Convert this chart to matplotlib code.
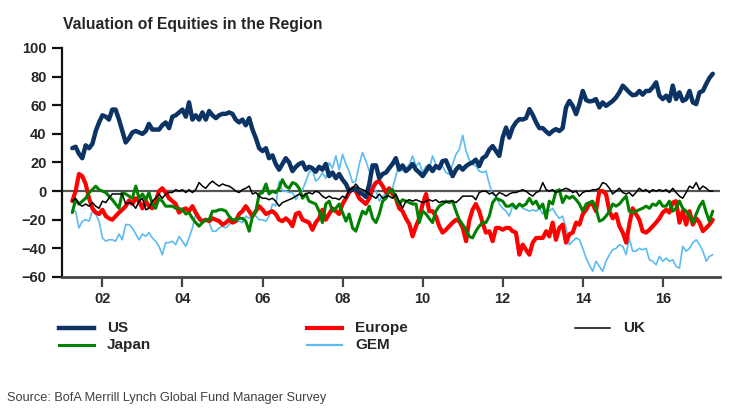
import matplotlib
matplotlib.use("Agg")
import matplotlib.pyplot as plt
import matplotlib.dates as mdates
from matplotlib.lines import Line2D
import pandas as pd

# ---------------- data (monthly, Apr 2001 - Apr 2017) ----------------
dates = pd.date_range("2001-04-01", periods=193, freq="MS")

us = [30,31,26,23,32,30,33,42,48,53,
      52,50,57,57,50,42,34,37,41,42,
      41,40,42,47,43,43,43,46,48,44,
      52,53,55,57,52,62,50,53,50,55,
      50,56,53,51,53,54,54,55,54,50,
      48,50,46,51,43,37,30,28,30,23,
      25,19,15,19,23,20,14,17,19,
      20,15,17,16,13.5,17,15,19,10.5,13,
      9,12,8,5,0,1,2,-1,-2,-4,
      5,18,18,9,12,13,16,19,23,15,
      18,14,16,19,15,13,10.5,14,17.5,14,
      17.5,16,21,21.5,16,10.5,15,17.5,15,17.5,
      19,20,22,17.5,23,24.5,29,31.5,28,
      24.6,37.4,44.4,37.4,44.4,48,50.3,50,51,57.3,
      53.3,48,44,44,41.6,39.8,42,43.3,42,44,
      58.5,63,59.6,53.8,60.8,70,63.6,62.7,63,64.3,
      58.5,62,59.6,61.3,63,65.5,69,73.7,71.3,69,
      67,67.4,70,67.4,70,70,72.5,76,66.7,64.3,
      66.7,63,73.7,64.3,69,63,64.3,70,62,60.8,
      69,70,75,79,82]

europe = [-7,0,12,10.5,5,-5,-12,-15,-16,-13,
          -17.5,-19,-20,-17.5,-15,-13,-10.5,-6.5,-9,-5,
          -7,-12,-7,-10.5,-12,-7,0,2,-1,-5,
          -7,-9,-15,-13,-12,-14,-10.5,-15,-19,-21,
          -20,-21,-19,-20,-21,-23.4,-22,-20,-22,-21,
          -16,-14,-10.5,-14,-17.5,-14,-10.5,-13,-16,-15,
          -14,-16,-20,-21,-19,-21,-24.5,-16,-15,
          -20,-21,-22,-27,-22,-19,-13,-20,-16,-12,
          -14,-16,-9,-5,-1,2,0,-5,-7,-9,
          -5,2,6,7,3.5,-1,2,-2,-5,-12,
          -14,-19,-23,-31.6,-24.5,-19,-9,-2,-14,-14,
          -17.5,-24.5,-29,-27,-24.5,-22,-20,-21,-25.7,-35,
          -21,-13,-9,-14,-22,-29,-28,-35,-25.7,
          -25.7,-27,-25.7,-25.7,-28,-29,-44.4,-37.4,-41,-44.4,
          -36,-32.7,-32.7,-32.7,-28,-31.6,-22,-34,-25.7,-23.4,
          -36,-30,-29,-22,-23.4,-16,-13,-9,-9,-14,
          0,0,-2,-14,-19,-16,-24.5,-29,-36,-23.4,
          -12,-16,-20,-28,-29,-27,-24.5,-22,-19,-15,
          -13,-15,-8,-7,-22,-14,-23.4,-14,-23.4,-19,
          -22,-28,-25.7,-23.4,-20]

japan = [-15,-6,-9,-7,-5,-1,1,3.5,1,0,
         -1,-3.5,-6,-9,-12,-1,-2,-3.5,-5,3.5,
         -5,-2,-6,-1,-9,-12,-5,-7,-10.5,-10.5,
         -10.5,-12,-12,-13,-16,-15,-19,-22,-24.5,-22,
         -20,-20,-14,-14,-13,-13,-14,-17.5,-20,-20,
         -19,-19,-21,-28,-17.5,-14,-2,-1,5,-2,
         0,-1,2,8,3.5,2,6,5,2,
         -5,-2,-7,-8,-9,-14,-22,-9,-7,-14,
         -12,-9,-15,-21,-16,-25.7,-28,-21,-14,-16,
         -10.5,-19,-22,-16,-7,-5,0,1,-5,-9,
         -6,-7,-8,-9,-9,-22,-14,-16,-19,-22,
         -14,-10.5,-9,-7,-8,-7,-14,-20,-23.4,-27,
         -31.6,-32.7,-28,-24.5,-22,-22,-17.5,-8,-5,
         -6,-7,-10.5,-10.5,-9,-12,-9,-10.5,-9,-5,
         -9,-7,-12,-9,-19,-7,-9,0,1,-8,
         -3.5,-5,-3.5,-6,-9,-14,-9,-8,-7,-12,
         -21,-20,-17.5,-14,-9,-10.5,-9,-6,-3.5,-14,
         -15,-14,-13,-12,-10.5,-12,-9,-10,-7,-10.5,
         -10.5,-7,-14,-12,-7,-12,-14,-17.5,-22,-16,
         -10.5,-7,-15,-21,-14]

uk = [-7,-5,-9,-10.5,-9,-10.5,-8,-10.5,-12,-7,
      -8,-5,-2,-2,-2,-2,-9,-8,-9,-12,
      -7,-5,-13,-12,-7,-5,-2,-5,-2,-1,
      -1,1,0,1,-1,1,-1,1,6,3.5,
      2,5,7,5,3.5,5,4,3.5,2,0,
      -1,1,2,3.5,-2,-1,-3.5,-5,-5,-6,
      -5,-7,-10.5,-8,-7,-6,-5,-3.5,-2,
      -3.5,-2,-1,-2,0,-1,-3.5,-5,-3.5,-5,
      -5,-6,-3.5,-5,1,2,5,2,1,0,
      -2,-3.5,-5,-2,-5,-3.5,-3.5,-5,-2,-7,
      -12,-7,-6,-7,-6,-7,-8,-7,-6,-7,
      -6,-8,-7,-8,-7,-7,-8,-6,-3.5,-3.5,
      -3.5,-3.5,-6,-1,0,0,-2,-1,-3.5,
      -1,-2,-3.5,-2,-1,-1,0,1,0,-2,
      -3.5,-1,0,6,1,0,1,-1,0,1,
      2,1,-1,0,-3.5,-1,0,0,1,1,
      2,6,5,2,-2,0,2,-1,-2,-1,
      -3.5,-1,2,0,1,-1,1,0,1,0,
      1,-1,2,-1,-3.5,-5,-1,3.5,2,6,
      1,3.5,2,0,0]

gem = [-14,-14,-25.7,-21,-20,-21,-14,-16,-21,-32.7,
       -35,-34,-34,-35,-30,-34,-23.4,-23.4,-25.7,-30,
       -34,-30,-31.6,-29,-32.7,-35,-38.6,-44.4,-36,-36,
       -35,-37.4,-31.6,-35,-38.6,-32.7,-25.7,-16,-21,-22,
       -19,-22,-28,-28,-25.7,-24.5,-25.7,-23.4,-21,-20,
       -21,-22,-17.5,-19,-16,-17.5,-20,-20,-21,-17.5,
       -9,-10.5,7,0,0,-1,-1,-6,-2,
       1,7,13,15,7,9,13,9,20,16,
       24.6,15,25.7,18.7,14,6,7,18.7,27,21,
       14,2,0,-7,-3.5,-2,-1,2,10.5,18.7,
       14,16,18.7,24.6,17.5,20,13,17.5,15,24.6,
       18.7,16,17.5,13,11.7,18.7,25.7,29,39,28,
       22,18.7,17.5,14,13,14,5,-2,-3.5,
       -9,-12,-14,-17.5,-10.5,-12,-9,-12,-13,-14,
       -13,-14,-12,-16,-13,-14,-12,-16,-19,-17.5,
       -25.7,-37.4,-35,-32.7,-34,-40,-46.8,-51.5,-56,-49,
       -52.6,-56,-49,-44.4,-41,-40,-37.4,-38.6,-44.4,-32.7,
       -42,-42,-40,-41,-40,-48,-49,-51.5,-45.6,-49,
       -46.8,-49,-48,-52.6,-53.8,-38.6,-42,-40,-36,-34,
       -37.4,-42,-49,-45.6,-44.4]

series_names = ["US", "Japan", "Europe", "GEM", "UK"]
tick_years = [2002, 2004, 2006, 2008, 2010, 2012, 2014, 2016]
y_ticks = [-60, -40, -20, 0, 20, 40, 60, 80, 100]

# ---------------- styling ----------------
W, H = 753, 419
plt.rcParams['font.family'] = ['Liberation Sans', 'DejaVu Sans']
fig = plt.figure(figsize=(W / 100, H / 100), dpi=100)
ax = fig.add_axes([62 / W, 1 - 277 / H, (720 - 62) / W, (277 - 48) / H])

styles = {
    "US": dict(color="#0b3464", lw=3.2, z=6),
    "Europe": dict(color="#ff0000", lw=3.0, z=4),
    "Japan": dict(color="#008000", lw=2.2, z=5),
    "GEM": dict(color="#5cbcf0", lw=1.2, z=3),
    "UK": dict(color="#000000", lw=1.1, z=7),
}
legend_lw = {"US": 3.2, "Europe": 3.0, "Japan": 2.2, "GEM": 1.6, "UK": 1.1}
data = {"US": us, "Europe": europe, "Japan": japan, "GEM": gem, "UK": uk}

ax.axhline(0, color="#555555", lw=1.6, zorder=2)
for name in ["GEM", "Europe", "Japan", "US", "UK"]:
    st = styles[name]
    ax.plot(dates, data[name], color=st["color"], lw=st["lw"], zorder=st["z"],
            solid_joinstyle="round", solid_capstyle="round")

ax.set_ylim(-60, 100)
ax.set_xlim(pd.Timestamp("2000-12-28"), pd.Timestamp("2017-06-06"))
ax.set_yticks(y_ticks)
ax.set_xticks([pd.Timestamp(f"{y}-01-01") for y in tick_years])
ax.xaxis.set_major_formatter(mdates.DateFormatter("%y"))

for s in ["top", "right"]:
    ax.spines[s].set_visible(False)
ax.spines["left"].set_color("#111111")
ax.spines["left"].set_linewidth(1.6)
ax.spines["bottom"].set_color("#444444")
ax.spines["bottom"].set_linewidth(2.0)
ax.tick_params(axis="y", direction="out", length=7, width=1.6, color="#111111",
               pad=4, labelsize=10.5, labelcolor="#262626")
ax.tick_params(axis="x", direction="out", length=7, width=1.6, color="#444444",
               pad=4, labelsize=10.5, labelcolor="#262626")
for lab in ax.get_xticklabels() + ax.get_yticklabels():
    lab.set_fontweight("bold")

# title
fig.text(63 / W, 1 - 24 / H, "Valuation of Equities in the Region", fontsize=11.3,
         fontweight="bold", color="#262626", ha="left", va="center")

# legend (manual layout)
leg_pos = {"US": (59, 328), "Japan": (59, 345), "Europe": (307, 328),
           "GEM": (307, 345), "UK": (575, 328)}
for name in series_names:
    x0, y0 = leg_pos[name]
    st = styles[name]
    fig.add_artist(Line2D([x0 / W, (x0 + 35) / W], [1 - y0 / H, 1 - y0 / H],
                          color=st["color"], lw=legend_lw[name],
                          transform=fig.transFigure))
    fig.text((x0 + 48) / W, 1 - y0 / H, name, fontsize=11, fontweight="bold",
             color="#262626", ha="left", va="center")

fig.text(7 / W, 1 - 398 / H, "Source: BofA Merrill Lynch Global Fund Manager Survey",
         fontsize=9.2, color="#404040", ha="left", va="center")

fig.savefig("out.png", dpi=100)
